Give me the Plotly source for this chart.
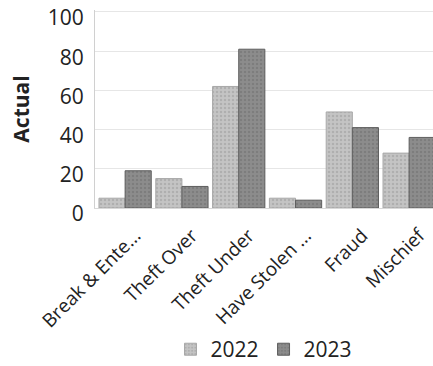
import plotly.graph_objects as go

categories = ["Break & Ente...", "Theft Over", "Theft Under", "Have Stolen ...", "Fraud", "Mischief"]
values_2022 = [5, 15, 62, 5, 49, 28]
values_2023 = [19, 11, 81, 4, 41, 36]
y_ticks = [0, 20, 40, 60, 80, 100]

fig = go.Figure()
fig.add_trace(go.Bar(
    name="2022", x=categories, y=values_2022,
    marker=dict(color="#c4c4c4", line=dict(color="#a8a8a8", width=1),
                pattern=dict(shape=".", fgcolor="#9a9a9a", size=4, solidity=0.3)),
))
fig.add_trace(go.Bar(
    name="2023", x=categories, y=values_2023,
    marker=dict(color="#8c8c8c", line=dict(color="#5e5e5e", width=1),
                pattern=dict(shape=".", fgcolor="#6e6e6e", size=4, solidity=0.3)),
))

fig.update_layout(
    width=433, height=366,
    margin=dict(l=95, r=0, t=10, b=158, autoexpand=False),
    paper_bgcolor="white", plot_bgcolor="white",
    barmode="group", bargap=0.08, bargroupgap=0.0,
    font=dict(family="Open Sans", color="#222222"),
    showlegend=True,
    legend=dict(orientation="h", x=0.5, xanchor="center", y=-0.715, yanchor="middle",
                font=dict(size=21), itemwidth=30, traceorder="normal"),
    yaxis=dict(
        range=[0, 101], tickvals=y_ticks, ticktext=[str(v) for v in y_ticks],
        tickfont=dict(size=21), showgrid=True, gridcolor="#e6e6e6", gridwidth=1,
        showline=True, linecolor="#d0d0d0", zeroline=False, ticks="", ticklen=0,
        ticklabeloverflow="allow", ticklabelstandoff=6, ticklabelshift=6,
        automargin=False,
        title=dict(text="<b>Actual</b>", font=dict(size=21), standoff=12),
    ),
    xaxis=dict(
        range=[-0.53, 5.42], tickangle=-45, tickfont=dict(size=19),
        showline=True, linecolor="#d8d8d8", showgrid=False, automargin=False,
        ticklabelshift=10, ticklabelstandoff=8,
    ),
)

fig.write_html("out.html")
